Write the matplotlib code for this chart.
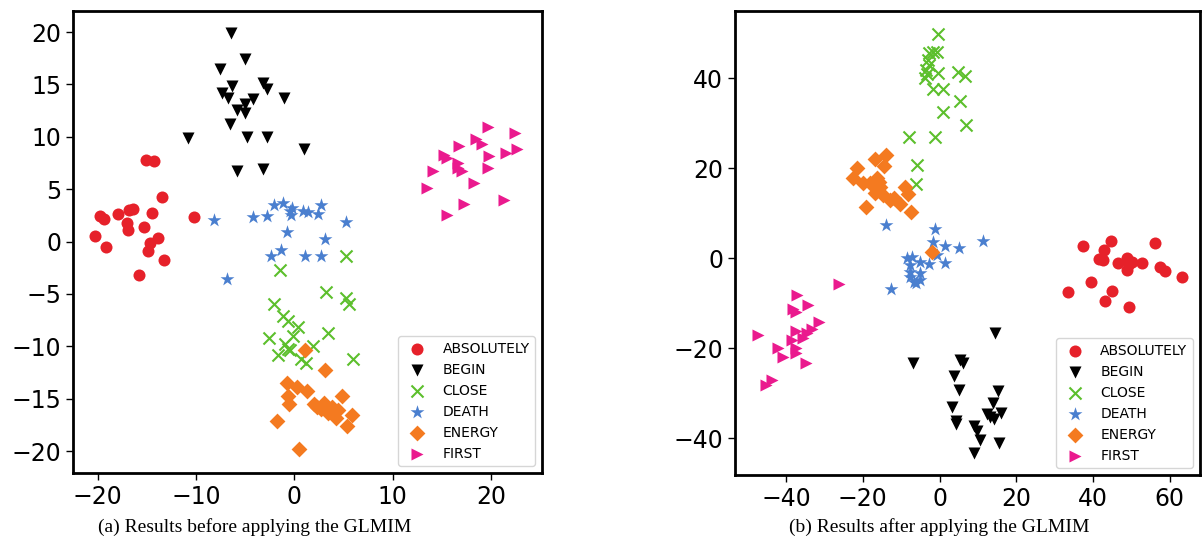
import matplotlib.pyplot as plt

# ---- datos (a) antes de aplicar GLMIM ----
abs_a_x = [-15.1, -14.3, -13.5, -19.8, -19.3, -17.9, -16.8, -16.4, -14.5, -10.2,
           -17.0, -16.9, -15.3, -20.3, -14.7, -13.9, -19.1, -14.9, -13.2, -15.8]
abs_a_y = [7.8, 7.7, 4.3, 2.4, 2.2, 2.6, 3.0, 3.1, 2.7, 2.3,
           1.8, 1.1, 1.4, 0.5, -0.1, 0.3, -0.5, -0.9, -1.8, -3.2]
beg_a_x = [-6.4, -5.0, -7.6, -6.3, -3.2, -2.8, -7.4, -6.7, -4.2, -5.0,
           -5.8, -5.0, -1.0, -6.5, -10.8, -4.8, -2.8, 1.0, -5.8, -3.2]
beg_a_y = [19.9, 17.4, 16.5, 14.9, 15.1, 14.6, 14.2, 13.7, 13.6, 13.1,
           12.6, 12.3, 13.7, 11.2, 9.9, 10.0, 10.0, 8.8, 6.7, 6.9]
clo_a_x = [5.3, -1.5, 3.2, 5.3, 5.6, -2.1, -1.1, -0.6, 0.4, 3.4,
           -2.6, -0.1, -0.9, -0.6, -1.7, 1.9, 0.7, 1.2, 6.0, -0.4]
clo_a_y = [-1.4, -2.7, -4.8, -5.4, -6.0, -6.0, -7.1, -7.6, -8.2, -8.7,
           -9.2, -9.0, -9.8, -10.3, -10.8, -10.0, -11.2, -11.6, -11.2, -10.4]
dea_a_x = [-8.2, -4.2, -2.8, -2.1, -1.1, -0.4, -0.3, 0.9, 1.4, 2.7,
           2.4, 5.3, -0.7, 3.1, -1.4, -2.4, 1.1, 2.7, -6.8, -0.2]
dea_a_y = [2.1, 2.3, 2.4, 3.5, 3.7, 2.9, 2.5, 2.9, 2.8, 3.5,
           2.6, 1.9, 0.9, 0.2, -0.8, -1.4, -1.4, -1.4, -3.6, 3.2]
ene_a_x = [1.1, 3.1, -0.7, 0.3, 1.3, -0.6, -0.5, 4.9, 2.0, 3.0,
           2.7, 3.8, 3.4, 4.4, 4.2, 5.9, 5.4, -1.8, 0.5, 2.3]
ene_a_y = [-10.4, -12.3, -13.5, -13.9, -14.3, -14.7, -15.5, -14.7, -15.5, -15.4,
           -16.0, -15.8, -16.4, -16.1, -16.8, -16.6, -17.6, -17.1, -19.8, -15.8]
fir_a_x = [19.7, 22.4, 18.5, 19.1, 16.8, 15.2, 15.5, 19.8, 21.5, 22.6,
           16.7, 16.6, 17.1, 19.7, 14.1, 18.3, 13.5, 21.3, 17.3, 15.5]
fir_a_y = [10.9, 10.4, 9.8, 9.3, 9.1, 8.3, 8.0, 8.2, 8.5, 8.8,
           7.5, 7.0, 6.7, 7.0, 6.7, 5.6, 5.1, 4.0, 3.6, 2.5]

# ---- datos (b) despues de aplicar GLMIM ----
abs_b_x = [37.4, 44.8, 56.3, 42.8, 41.5, 42.6, 46.4, 49.0, 49.3, 48.9,
           52.8, 57.5, 58.9, 63.2, 39.5, 33.6, 45.0, 43.2, 49.5, 50.2]
abs_b_y = [2.7, 3.8, 3.5, 1.8, -0.1, -0.4, -1.1, 0.0, -1.3, -2.6,
           -1.1, -1.9, -2.8, -4.1, -5.3, -7.5, -7.3, -9.5, -10.9, -0.8]
beg_b_x = [14.5, -7.0, 5.4, 6.1, 3.9, 5.1, 15.3, 3.2, 13.9, 4.3,
           4.3, 12.4, 13.2, 16.1, 14.1, 8.9, 9.8, 10.6, 15.4, 8.9]
beg_b_y = [-16.7, -23.2, -22.7, -23.3, -26.1, -29.3, -29.5, -33.0, -32.1, -36.1,
           -36.8, -34.6, -35.2, -34.4, -35.7, -37.3, -38.5, -40.5, -41.1, -43.2]
clo_b_x = [-0.5, -1.6, -2.8, -0.7, -3.0, -2.8, -3.5, -3.3, -0.3, 4.9,
           6.7, -3.7, -1.6, 1.0, 5.4, 1.0, 6.8, -8.0, -1.1, -5.9, -6.1]
clo_b_y = [49.8, 45.9, 45.7, 45.9, 44.1, 43.0, 41.8, 40.9, 41.2, 41.5,
           40.6, 40.0, 37.6, 37.6, 35.0, 32.6, 29.6, 27.0, 26.9, 20.7, 16.5]
dea_b_x = [-14.0, -1.3, -1.6, 1.5, 5.0, 11.3, -8.5, -7.2, -5.0, -7.6,
           -7.6, -5.2, -6.6, -5.0, -2.7, 1.5, -0.7, -12.6, -7.6, -6.0]
dea_b_y = [7.3, 6.5, 3.7, 2.8, 2.2, 3.8, 0.0, 0.2, -0.8, -1.5,
           -3.0, -3.3, -5.2, -4.8, -1.3, -1.0, 0.7, -6.9, -4.1, -5.6]
ene_b_x = [-13.9, -16.7, -14.4, -21.4, -22.6, -20.0, -16.2, -15.5, -16.8, -14.6,
           -11.8, -9.0, -8.1, -10.4, -19.1, -7.5, -12.9, -18.1, -2.0, -15.9]
ene_b_y = [23.0, 22.1, 20.6, 20.0, 17.8, 16.8, 17.9, 15.9, 14.6, 14.1,
           13.3, 15.9, 14.2, 12.1, 11.5, 10.4, 13.0, 16.7, 1.3, 17.0]
fir_b_x = [-26.3, -37.2, -34.2, -38.2, -37.4, -31.3, -33.3, -34.6, -37.4, -47.2,
           -35.5, -38.5, -42.0, -37.4, -37.4, -40.8, -34.8, -43.7, -45.2]
fir_b_y = [-5.8, -8.2, -10.4, -11.3, -11.9, -14.1, -15.8, -16.7, -16.2, -17.0,
           -17.8, -18.2, -20.0, -20.0, -21.1, -21.9, -23.3, -27.0, -28.2]

etiquetas = ["ABSOLUTELY", "BEGIN", "CLOSE", "DEATH", "ENERGY", "FIRST"]
colores = ["#e6212a", "#000000", "#5cbf2c", "#4a7fcf", "#f47a20", "#ea1a8e"]
marcadores = ["o", "v", "x", "*", "D", ">"]
tamanos = [75, 75, 75, 110, 65, 75]

datos_a = [(abs_a_x, abs_a_y), (beg_a_x, beg_a_y), (clo_a_x, clo_a_y),
           (dea_a_x, dea_a_y), (ene_a_x, ene_a_y), (fir_a_x, fir_a_y)]
datos_b = [(abs_b_x, abs_b_y), (beg_b_x, beg_b_y), (clo_b_x, clo_b_y),
           (dea_b_x, dea_b_y), (ene_b_x, ene_b_y), (fir_b_x, fir_b_y)]

fig = plt.figure(figsize=(12.03, 5.44), dpi=100)
ax1 = fig.add_axes([0.0607, 0.1305, 0.3899, 0.849])
ax2 = fig.add_axes([0.611, 0.1268, 0.3865, 0.853])


def dibujar(ax, datos):
    for (xs, ys), lab, c, m, s in zip(datos, etiquetas, colores, marcadores, tamanos):
        if m == "x":
            ax.scatter(xs, ys, c=c, marker=m, s=s, linewidths=1.5, label=lab)
        else:
            ax.scatter(xs, ys, c=c, marker=m, s=s, linewidths=0, label=lab)
    for sp in ax.spines.values():
        sp.set_linewidth(2)
    ax.tick_params(labelsize=17, width=1, length=5)
    ax.legend(loc="lower right", fontsize=10)


dibujar(ax1, datos_a)
ax1.set_xlim(-22.5, 25.2)
ax1.set_ylim(-22.1, 22.0)
ax1.set_xticks([-20, -10, 0, 10, 20])
ax1.set_yticks([-20, -15, -10, -5, 0, 5, 10, 15, 20])

dibujar(ax2, datos_b)
ax2.set_xlim(-53.3, 67.9)
ax2.set_ylim(-48.2, 55.0)
ax2.set_xticks([-40, -20, 0, 20, 40, 60])
ax2.set_yticks([-40, -20, 0, 20, 40])

fig.text(255 / 1203, 1 - 527 / 544, "(a) Results before applying the GLMIM",
         family="Liberation Serif", fontsize=14, ha="center", va="center")
fig.text(939 / 1203, 1 - 527 / 544, "(b) Results after applying the GLMIM",
         family="Liberation Serif", fontsize=14, ha="center", va="center")

plt.savefig("out.png", dpi=100)
